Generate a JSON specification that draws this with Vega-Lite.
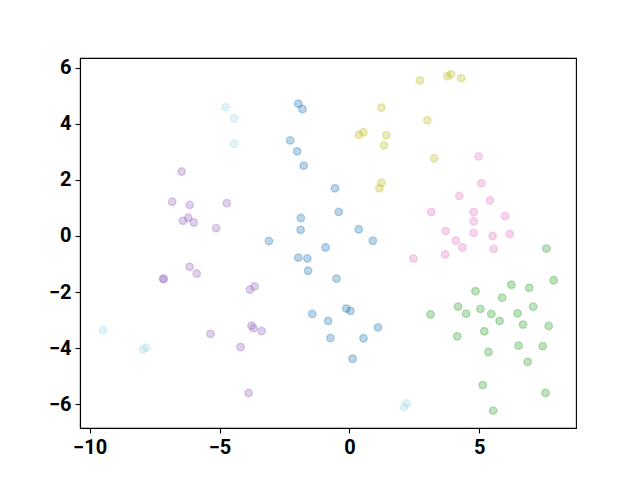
{
  "$schema": "https://vega.github.io/schema/vega-lite/v6.json",
  "width": 496,
  "height": 370,
  "autosize": {"type": "none"},
  "padding": {"left": 80, "top": 58, "right": 64, "bottom": 52},
  "background": "white",
  "config": {
    "view": {"stroke": "black", "strokeWidth": 1.1},
    "axis": {
      "grid": false,
      "domainColor": "black",
      "domainWidth": 1.1,
      "tickColor": "black",
      "tickWidth": 1.1,
      "tickSize": 5,
      "labelFont": "Roboto",
      "labelFontWeight": "bold",
      "labelFontSize": 20,
      "labelColor": "black",
      "labelPadding": 4,
      "title": null
    }
  },
  "data": {
    "values": [
      {"cluster": "a", "x": -1.97, "y": 4.72},
      {"cluster": "a", "x": -1.81, "y": 4.53},
      {"cluster": "a", "x": -2.28, "y": 3.41},
      {"cluster": "a", "x": -2.01, "y": 3.02},
      {"cluster": "a", "x": -1.76, "y": 2.51},
      {"cluster": "a", "x": -0.56, "y": 1.70},
      {"cluster": "a", "x": -0.41, "y": 0.86},
      {"cluster": "a", "x": -1.87, "y": 0.64},
      {"cluster": "a", "x": -1.88, "y": 0.22},
      {"cluster": "a", "x": 0.36, "y": 0.24},
      {"cluster": "a", "x": -3.10, "y": -0.18},
      {"cluster": "a", "x": 0.90, "y": -0.17},
      {"cluster": "a", "x": -0.92, "y": -0.41},
      {"cluster": "a", "x": -1.97, "y": -0.77},
      {"cluster": "a", "x": -1.62, "y": -0.80},
      {"cluster": "a", "x": -1.59, "y": -1.24},
      {"cluster": "a", "x": -0.50, "y": -1.52},
      {"cluster": "a", "x": -1.43, "y": -2.78},
      {"cluster": "a", "x": -0.12, "y": -2.59},
      {"cluster": "a", "x": 0.04, "y": -2.67},
      {"cluster": "a", "x": -0.82, "y": -3.03},
      {"cluster": "a", "x": 1.10, "y": -3.26},
      {"cluster": "a", "x": -0.73, "y": -3.64},
      {"cluster": "a", "x": 0.54, "y": -3.65},
      {"cluster": "a", "x": 0.12, "y": -4.38},
      {"cluster": "b", "x": 2.71, "y": 5.55},
      {"cluster": "b", "x": 3.77, "y": 5.70},
      {"cluster": "b", "x": 3.91, "y": 5.77},
      {"cluster": "b", "x": 4.30, "y": 5.63},
      {"cluster": "b", "x": 1.23, "y": 4.58},
      {"cluster": "b", "x": 3.00, "y": 4.13},
      {"cluster": "b", "x": 0.37, "y": 3.61},
      {"cluster": "b", "x": 0.54, "y": 3.70},
      {"cluster": "b", "x": 1.42, "y": 3.59},
      {"cluster": "b", "x": 1.33, "y": 3.23},
      {"cluster": "b", "x": 3.26, "y": 2.77},
      {"cluster": "b", "x": 1.23, "y": 1.90},
      {"cluster": "b", "x": 1.15, "y": 1.70},
      {"cluster": "c", "x": 4.97, "y": 2.84},
      {"cluster": "c", "x": 5.08, "y": 1.88},
      {"cluster": "c", "x": 4.23, "y": 1.43},
      {"cluster": "c", "x": 5.41, "y": 1.27},
      {"cluster": "c", "x": 3.15, "y": 0.85},
      {"cluster": "c", "x": 4.78, "y": 0.85},
      {"cluster": "c", "x": 4.78, "y": 0.53},
      {"cluster": "c", "x": 5.99, "y": 0.71},
      {"cluster": "c", "x": 3.70, "y": 0.18},
      {"cluster": "c", "x": 4.78, "y": 0.11},
      {"cluster": "c", "x": 5.51, "y": 0.0},
      {"cluster": "c", "x": 6.17, "y": 0.07},
      {"cluster": "c", "x": 4.09, "y": -0.17},
      {"cluster": "c", "x": 4.35, "y": -0.41},
      {"cluster": "c", "x": 5.55, "y": -0.46},
      {"cluster": "c", "x": 3.68, "y": -0.66},
      {"cluster": "c", "x": 2.46, "y": -0.80},
      {"cluster": "d", "x": 7.58, "y": -0.45},
      {"cluster": "d", "x": 7.86, "y": -1.58},
      {"cluster": "d", "x": 6.23, "y": -1.74},
      {"cluster": "d", "x": 6.92, "y": -1.85},
      {"cluster": "d", "x": 4.85, "y": -1.97},
      {"cluster": "d", "x": 5.88, "y": -2.20},
      {"cluster": "d", "x": 4.18, "y": -2.52},
      {"cluster": "d", "x": 4.49, "y": -2.77},
      {"cluster": "d", "x": 5.04, "y": -2.60},
      {"cluster": "d", "x": 5.46, "y": -2.78},
      {"cluster": "d", "x": 5.78, "y": -3.03},
      {"cluster": "d", "x": 6.47, "y": -2.76},
      {"cluster": "d", "x": 7.07, "y": -2.52},
      {"cluster": "d", "x": 3.12, "y": -2.80},
      {"cluster": "d", "x": 6.68, "y": -3.16},
      {"cluster": "d", "x": 7.67, "y": -3.21},
      {"cluster": "d", "x": 5.19, "y": -3.40},
      {"cluster": "d", "x": 4.15, "y": -3.58},
      {"cluster": "d", "x": 6.51, "y": -3.91},
      {"cluster": "d", "x": 7.44, "y": -3.93},
      {"cluster": "d", "x": 5.35, "y": -4.14},
      {"cluster": "d", "x": 6.86, "y": -4.49},
      {"cluster": "d", "x": 5.13, "y": -5.32},
      {"cluster": "d", "x": 7.55, "y": -5.60},
      {"cluster": "d", "x": 5.53, "y": -6.23},
      {"cluster": "e", "x": -6.46, "y": 2.30},
      {"cluster": "e", "x": -6.82, "y": 1.22},
      {"cluster": "e", "x": -6.15, "y": 1.11},
      {"cluster": "e", "x": -4.72, "y": 1.17},
      {"cluster": "e", "x": -6.20, "y": 0.65},
      {"cluster": "e", "x": -6.41, "y": 0.54},
      {"cluster": "e", "x": -5.99, "y": 0.48},
      {"cluster": "e", "x": -5.13, "y": 0.28},
      {"cluster": "e", "x": -6.15, "y": -1.10},
      {"cluster": "e", "x": -5.88, "y": -1.34},
      {"cluster": "e", "x": -7.17, "y": -1.52},
      {"cluster": "e", "x": -7.15, "y": -1.54},
      {"cluster": "e", "x": -3.65, "y": -1.80},
      {"cluster": "e", "x": -3.83, "y": -1.91},
      {"cluster": "e", "x": -3.77, "y": -3.20},
      {"cluster": "e", "x": -3.69, "y": -3.29},
      {"cluster": "e", "x": -3.38, "y": -3.39},
      {"cluster": "e", "x": -5.35, "y": -3.49},
      {"cluster": "e", "x": -4.19, "y": -3.96},
      {"cluster": "e", "x": -3.88, "y": -5.60},
      {"cluster": "f", "x": -4.77, "y": 4.59},
      {"cluster": "f", "x": -4.44, "y": 4.20},
      {"cluster": "f", "x": -4.44, "y": 3.29},
      {"cluster": "f", "x": 2.20, "y": -5.97},
      {"cluster": "f", "x": 2.10, "y": -6.10},
      {"cluster": "f", "x": -9.49, "y": -3.35},
      {"cluster": "f", "x": -7.95, "y": -4.05},
      {"cluster": "f", "x": -7.82, "y": -3.98}
    ]
  },
  "mark": {
    "type": "point",
    "shape": "circle",
    "filled": false,
    "size": 56,
    "fillOpacity": 0.3,
    "strokeOpacity": 0.3,
    "strokeWidth": 1.4
  },
  "encoding": {
    "x": {
      "field": "x",
      "type": "quantitative",
      "scale": {"domain": [-10.37, 8.72], "nice": false, "zero": false},
      "axis": {"values": [-10, -5, 0, 5], "format": "d"}
    },
    "y": {
      "field": "y",
      "type": "quantitative",
      "scale": {"domain": [-6.85, 6.35], "nice": false, "zero": false},
      "axis": {"values": [-6, -4, -2, 0, 2, 4, 6], "format": "d"}
    },
    "fill": {
      "field": "cluster",
      "type": "nominal",
      "scale": {"domain": ["a", "b", "c", "d", "e", "f"], "range": ["#1f77b4", "#bcbd22", "#e377c2", "#2ca02c", "#9467bd", "#9edae5"]},
      "legend": null
    },
    "stroke": {
      "field": "cluster",
      "type": "nominal",
      "scale": {"domain": ["a", "b", "c", "d", "e", "f"], "range": ["#1f77b4", "#bcbd22", "#e377c2", "#2ca02c", "#9467bd", "#9edae5"]},
      "legend": null
    }
  }
}
